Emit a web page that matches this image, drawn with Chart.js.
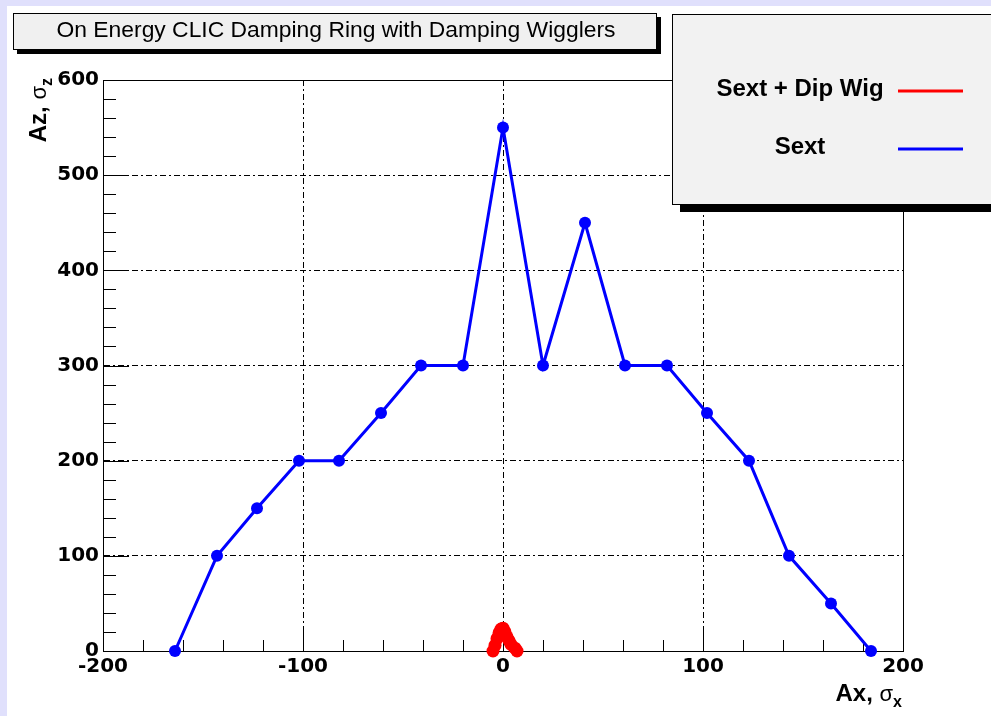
<!DOCTYPE html>
<html>
<head>
<meta charset="utf-8">
<script src="https://cdn.jsdelivr.net/npm/chart.js@4.4.1/dist/chart.umd.min.js"></script>
<style>
  html, body { margin: 0; padding: 0; background: #e0e0fc; }
  canvas { position: absolute; left: 0; top: 0; }
</style>
</head>
<body>
<canvas id="chart" width="991" height="716"></canvas>
<script>
// chart data
const chartTitle = 'On Energy CLIC Damping Ring with Damping Wigglers';
const seriesNames = ['Sext + Dip Wig', 'Sext'];
const seriesColors = ['#ff0000', '#0000ff'];

const dipWigX = [-5, -4, -3, -2, -1, 0, 1, 2, 3, 4, 6, 7];
const dipWigY = [0, 6, 13, 19, 23, 24, 20, 15, 11, 7, 3, 0];

const sextX = [-164, -143, -123, -102, -82, -61, -41, -20, 0, 20, 41, 61, 82, 102, 123, 143, 164, 184];
const sextY = [0, 100, 150, 200, 200, 250, 300, 300, 550, 300, 450, 300, 300, 250, 200, 100, 50, 0];

const xTicks = [-200, -100, 0, 100, 200];
const yTicks = [0, 100, 200, 300, 400, 500, 600];

function toPoints(xs, ys) {
    return xs.map((x, i) => ({ x: x, y: ys[i] }));
}

// draw text made of several pieces (for the sigma subscripts)
function drawRich(ctx, parts, x, y) {
    let total = 0;
    parts.forEach(p => { ctx.font = p.font; total += ctx.measureText(p.t).width; });
    let cx = x - total;
    ctx.textAlign = 'left';
    ctx.textBaseline = 'alphabetic';
    parts.forEach(p => {
        ctx.font = p.font;
        ctx.fillText(p.t, cx, y + (p.dy || 0));
        cx += ctx.measureText(p.t).width;
    });
}

const decorations = {
    id: 'decorations',
    beforeDraw(chart) {
        const ctx = chart.ctx;
        ctx.save();
        ctx.fillStyle = '#e0e0fc';
        ctx.fillRect(0, 0, chart.width, chart.height);
        ctx.fillStyle = '#ffffff';
        ctx.fillRect(7, 6, chart.width - 7, chart.height - 6);
        ctx.restore();
    },
    beforeDatasetsDraw(chart) {
        const ctx = chart.ctx;
        const a = chart.chartArea;
        const xs = chart.scales.x, ys = chart.scales.y;
        ctx.save();
        ctx.strokeStyle = '#000';
        ctx.lineWidth = 1;
        ctx.strokeRect(a.left + 0.5, a.top + 0.5, a.right - a.left, a.bottom - a.top);
        // inward ticks
        ctx.beginPath();
        for (let v = xs.min; v <= xs.max; v += 20) {
            const px = Math.round(xs.getPixelForValue(v)) + 0.5;
            const len = (v % 100 === 0) ? 22 : 11;
            ctx.moveTo(px, a.bottom);
            ctx.lineTo(px, a.bottom - len);
        }
        for (let v = ys.min; v <= ys.max; v += 20) {
            const py = Math.round(ys.getPixelForValue(v)) + 0.5;
            const len = (v % 100 === 0) ? 26 : 13;
            ctx.moveTo(a.left, py);
            ctx.lineTo(a.left + len, py);
        }
        ctx.stroke();
        ctx.restore();
    },
    afterDraw(chart) {
        const ctx = chart.ctx;
        ctx.save();
        ctx.fillStyle = '#000';

        // axis titles
        drawRich(ctx, [
            { t: 'Ax, ', font: 'bold 24px "Liberation Sans"' },
            { t: 'σ', font: '22px "Liberation Sans"' },
            { t: 'x', font: 'bold 16px "Liberation Sans"', dy: 6 }
        ], 902, 701);
        ctx.save();
        ctx.translate(46, 78);
        ctx.rotate(-Math.PI / 2);
        drawRich(ctx, [
            { t: 'Az, ', font: 'bold 24px "Liberation Sans"' },
            { t: 'σ', font: '22px "Liberation Sans"' },
            { t: 'z', font: 'bold 16px "Liberation Sans"', dy: 6 }
        ], 0, 0);
        ctx.restore();

        // title box
        ctx.fillStyle = '#000';
        ctx.fillRect(17, 50, 644, 4);
        ctx.fillRect(657, 17, 4, 37);
        ctx.fillStyle = '#f0f0f0';
        ctx.fillRect(13, 13, 644, 37);
        ctx.strokeStyle = '#000';
        ctx.lineWidth = 1;
        ctx.strokeRect(13.5, 13.5, 643, 36);
        ctx.fillStyle = '#000';
        ctx.font = '21px "Liberation Sans"';
        const tw = ctx.measureText(chartTitle).width;
        ctx.save();
        ctx.translate(336, 37);
        ctx.scale(559 / tw, 1.05);
        ctx.textAlign = 'center';
        ctx.fillText(chartTitle, 0, 0);
        ctx.restore();

        // legend box
        ctx.fillStyle = '#000';
        ctx.fillRect(680, 205, 311, 7);
        ctx.fillStyle = '#f2f2f2';
        ctx.fillRect(672, 14, 330, 191);
        ctx.strokeRect(672.5, 14.5, 330, 190);
        const rows = [91, 149];
        chart.data.datasets.forEach((ds, i) => {
            ctx.fillStyle = '#000';
            ctx.font = 'bold 24px "Liberation Sans"';
            ctx.textAlign = 'center';
            ctx.textBaseline = 'alphabetic';
            ctx.fillText(ds.label, 800, rows[i] + 5);
            ctx.strokeStyle = ds.borderColor;
            ctx.lineWidth = 3;
            ctx.beginPath();
            ctx.moveTo(898, rows[i]);
            ctx.lineTo(963, rows[i]);
            ctx.stroke();
        });
        ctx.restore();
    }
};

const ctx = document.getElementById('chart').getContext('2d');

new Chart(ctx, {
    type: 'line',
    data: {
        datasets: [{
            label: seriesNames[0],
            data: toPoints(dipWigX, dipWigY),
            borderColor: seriesColors[0],
            backgroundColor: seriesColors[0],
            borderWidth: 5,
            pointRadius: 6.5,
            pointBorderWidth: 0,
            clip: false,
        }, {
            label: seriesNames[1],
            data: toPoints(sextX, sextY),
            borderColor: seriesColors[1],
            backgroundColor: seriesColors[1],
            borderWidth: 3,
            pointRadius: 6,
            pointBorderWidth: 0,
            clip: false,
        }]
    },
    options: {
        responsive: false,
        animation: false,
        layout: { padding: { top: 80, right: 88, left: 0, bottom: 0 } },
        plugins: {
            legend: { display: false },
            title: { display: false },
            tooltip: { enabled: false }
        },
        scales: {
            x: {
                type: 'linear',
                min: xTicks[0],
                max: xTicks[xTicks.length - 1],
                afterBuildTicks: (scale) => { scale.ticks = xTicks.map(v => ({ value: v })); },
                afterFit: (scale) => { scale.height = 65; },
                grid: { color: '#000', lineWidth: 1, drawTicks: false },
                border: { display: true, color: '#000', width: 1, dash: [6, 3, 2, 3] },
                ticks: {
                    color: '#000',
                    padding: 4,
                    maxRotation: 0,
                    font: { family: 'DejaVu Sans', weight: 'bold', size: 20 }
                }
            },
            y: {
                min: yTicks[0],
                max: yTicks[yTicks.length - 1],
                afterBuildTicks: (scale) => { scale.ticks = yTicks.map(v => ({ value: v })); },
                afterFit: (scale) => { scale.width = 103; },
                grid: { color: '#000', lineWidth: 1, drawTicks: false },
                border: { display: true, color: '#000', width: 1, dash: [6, 3, 2, 3] },
                ticks: {
                    color: '#000',
                    padding: 4,
                    font: { family: 'DejaVu Sans', weight: 'bold', size: 20 }
                }
            }
        }
    },
    plugins: [decorations]
});
</script>
</body>
</html>
